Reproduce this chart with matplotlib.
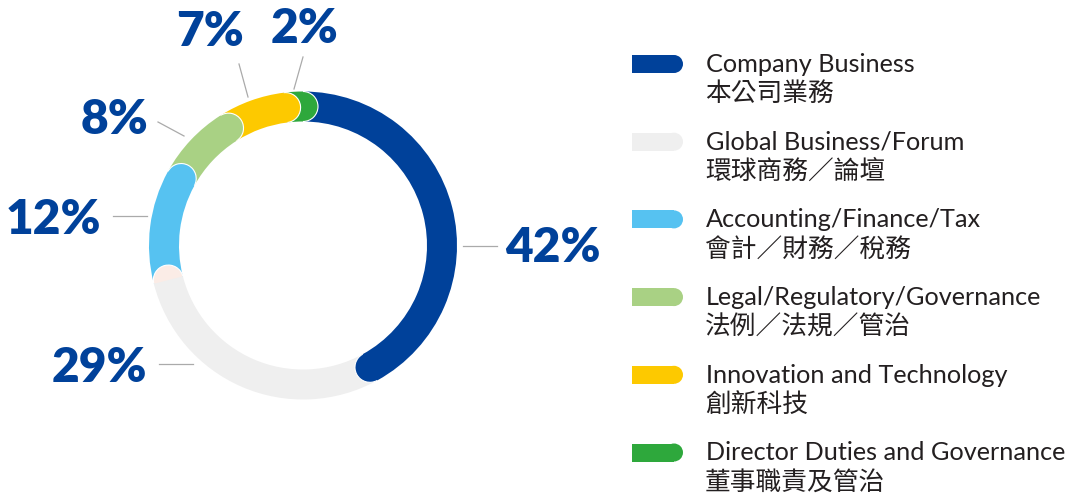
import matplotlib.pyplot as plt
import numpy as np
from matplotlib.patches import Wedge, Arc, Rectangle, Circle

# ~~~ DATA ~~~~~~~~~~~~~~~~~~~~~~~~~~~~~~~~~~~~~~~~~~~~~~~~~~~~~~~~~~~~~~~~~~~~
values = [42, 29, 12, 8, 7, 2]
labels_en = ['Company Business', 'Global Business/Forum',
             'Accounting/Finance/Tax', 'Legal/Regulatory/Governance',
             'Innovation and Technology', 'Director Duties and Governance']
labels_zh = ['本公司業務', '環球商務／論壇', '會計／財務／稅務',
             '法例／法規／管治', '創新科技', '董事職責及管治']
colors = ['#00419A', '#EFEFEF', '#56C2F1', '#A9D184', '#FDC900', '#2EA83C']
cap_colors = ['#00419A', '#FBECE6', '#56C2F1', '#A9D184', '#FDC900', '#2EA83C']

# ~~~ LAYOUT (pixels, y from top) ~~~~~~~~~~~~~~~~~~~~~~~~~~~~~~~~~~~~~~~~~~~~~
W, H = 1074, 495
cx, cy = 303, H - 245.5
r_out, width = 154, 30
r_mid = r_out - width / 2

# percent label: (x, y_baseline, ha), leader line (x0, y0, x1, y1)
pct_pos = [(505, 262, 'left'), (147, 382, 'right'), (101, 234, 'right'),
           (148, 134, 'right'), (210, 46, 'center'), (304, 43, 'center')]
leaders = [(463, 246, 497, 246), (159, 364, 193, 364), (113, 216, 147, 216),
           (158, 122, 184, 136), (239, 64, 248, 97), (303, 57, 294, 89)]

en_font = ['Lato', 'DejaVu Sans']
zh_font = ['Noto Sans CJK TC', 'DejaVu Sans']
blue_txt = '#00419A'
dark_txt = '#231F20'

fig = plt.figure(figsize=(W / 100, H / 100), dpi=100)
ax = fig.add_axes([0, 0, 1, 1])
ax.set_xlim(0, W)
ax.set_ylim(0, H)
ax.axis('off')

# ~~~ DONUT ~~~~~~~~~~~~~~~~~~~~~~~~~~~~~~~~~~~~~~~~~~~~~~~~~~~~~~~~~~~~~~~~~~~
ends = np.cumsum(values) / sum(values) * 360
starts = np.concatenate([[0], ends[:-1]])
for s, e, c in zip(starts, ends, colors):
    ax.add_patch(Wedge((cx, cy), r_out, 90 - e, 90 - s, width=width,
                       facecolor=c, edgecolor='none', zorder=2))

# rounded caps at the clockwise end of every segment
for e, c, cc in zip(ends, colors, cap_colors):
    th = 90 - e
    px = cx + r_mid * np.cos(np.radians(th))
    py = cy + r_mid * np.sin(np.radians(th))
    # back circle hides the seam, front half overlaps next segment
    ax.add_patch(Circle((px, py), width / 2 - 0.5, facecolor=c,
                        edgecolor='none', zorder=2.5))
    ax.add_patch(Wedge((px, py), width / 2, th - 180, th, facecolor=cc,
                       edgecolor='none', zorder=3))
    ax.add_patch(Arc((px, py), width, width, theta1=th - 180, theta2=th,
                     color='white', lw=0.8, zorder=4))

# ~~~ PERCENT LABELS ~~~~~~~~~~~~~~~~~~~~~~~~~~~~~~~~~~~~~~~~~~~~~~~~~~~~~~~~~~
for v, (x, y, ha), (x0, y0, x1, y1) in zip(values, pct_pos, leaders):
    ax.text(x, H - y, f'{v}%', ha=ha, va='baseline', fontsize=34.5,
            fontweight='heavy', color=blue_txt, family=en_font)
    ax.plot([x0, x1], [H - y0, H - y1], color='#AAAAAA', lw=0.9)

# ~~~ LEGEND ~~~~~~~~~~~~~~~~~~~~~~~~~~~~~~~~~~~~~~~~~~~~~~~~~~~~~~~~~~~~~~~~~~
row0, step = 64, 77.7
for i, (en, zh, c) in enumerate(zip(labels_en, labels_zh, colors)):
    yc = H - (row0 + i * step)
    ax.add_patch(Rectangle((632, yc - 9), 42, 18, facecolor=c,
                           edgecolor='none'))
    ax.add_patch(Circle((674, yc), 9, facecolor=c, edgecolor='none'))
    ax.text(706, yc - 8, en, ha='left', va='baseline', fontsize=18.2,
            color=dark_txt, family=en_font)
    ax.text(705, yc - 30, zh, ha='left', va='center', fontsize=18.5,
            color=dark_txt, family=zh_font)

fig.savefig('out.png', dpi=100)
